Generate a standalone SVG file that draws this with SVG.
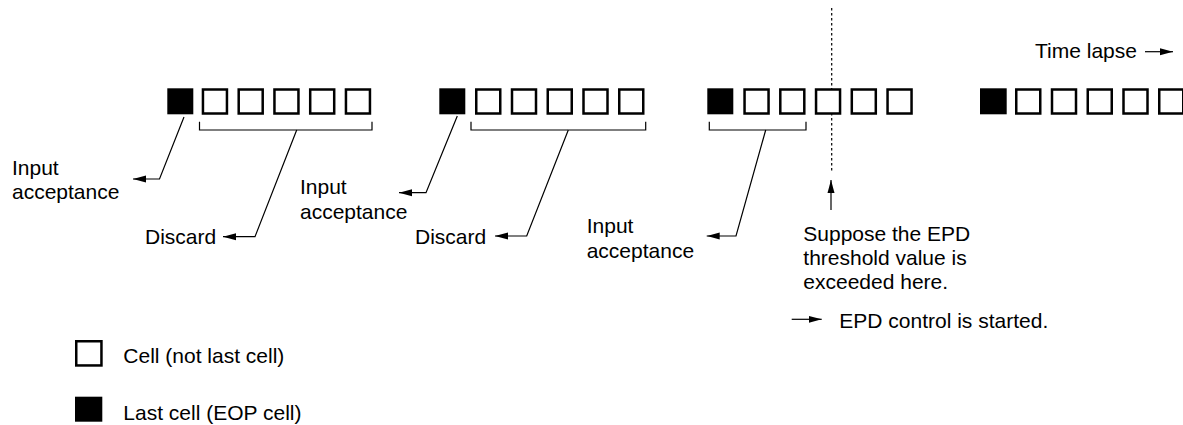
<svg xmlns="http://www.w3.org/2000/svg" width="1183" height="425" viewBox="0 0 1183 425">
  <defs>
    <style>
      text { font-family: "Liberation Sans", Arial, Helvetica, sans-serif; font-size: 21px; fill: #000; }
      .cell { fill: #fff; stroke: #000; stroke-width: 2.5; }
      .eop { fill: #000; stroke: none; }
      .bracket { fill: none; stroke: #000; stroke-width: 1.2; }
      .conn { fill: none; stroke: #000; stroke-width: 1.2; }
      .dotted { fill: none; stroke: #000; stroke-width: 1.2; stroke-dasharray: 2.5 2.5; }
    </style>
    <marker id="arrow" markerUnits="userSpaceOnUse" markerWidth="13" markerHeight="9" refX="13" refY="4.5" orient="auto">
      <path d="M0,1 L13,4.5 L0,8 z" fill="#000"/>
    </marker>
  </defs>

  <rect width="1183" height="425" fill="#fff"/>

  <!-- threshold dotted line (behind cells) -->
  <line id="threshold-line" class="dotted" x1="831.7" y1="8" x2="831.7" y2="172"/>

  <!-- cell train 1 -->
  <g id="train1">
    <rect class="eop" x="167.3" y="88.3" width="26" height="26"/>
    <rect class="cell" x="202.95" y="89.5" width="24" height="24"/>
    <rect class="cell" x="238.7" y="89.5" width="24" height="24"/>
    <rect class="cell" x="274.45" y="89.5" width="24" height="24"/>
    <rect class="cell" x="310.2" y="89.5" width="24" height="24"/>
    <rect class="cell" x="345.95" y="89.5" width="24" height="24"/>
    <path class="bracket" d="M199.5,121.7 V130 H372 V121.7"/>
  </g>

  <!-- cell train 2 -->
  <g id="train2">
    <rect class="eop" x="439.3" y="88.3" width="26" height="26"/>
    <rect class="cell" x="476.25" y="89.5" width="24" height="24"/>
    <rect class="cell" x="512" y="89.5" width="24" height="24"/>
    <rect class="cell" x="547.75" y="89.5" width="24" height="24"/>
    <rect class="cell" x="583.5" y="89.5" width="24" height="24"/>
    <rect class="cell" x="619.25" y="89.5" width="24" height="24"/>
    <path class="bracket" d="M471,121.7 V130 H645.7 V121.7"/>
  </g>

  <!-- cell train 3 -->
  <g id="train3">
    <rect class="eop" x="707.3" y="88.3" width="26" height="26"/>
    <rect class="cell" x="744.55" y="89.5" width="24" height="24"/>
    <rect class="cell" x="780.3" y="89.5" width="24" height="24"/>
    <rect class="cell" x="816.05" y="89.5" width="24" height="24"/>
    <rect class="cell" x="851.8" y="89.5" width="24" height="24"/>
    <rect class="cell" x="887.55" y="89.5" width="24" height="24"/>
    <path class="bracket" d="M709.3,121.7 V130 H806 V121.7"/>
  </g>

  <!-- cell train 4 -->
  <g id="train4">
    <rect class="eop" x="980" y="88.3" width="26.7" height="26"/>
    <rect class="cell" x="1016.25" y="89.5" width="24" height="24"/>
    <rect class="cell" x="1052" y="89.5" width="24" height="24"/>
    <rect class="cell" x="1087.75" y="89.5" width="24" height="24"/>
    <rect class="cell" x="1123.5" y="89.5" width="24" height="24"/>
    <rect class="cell" x="1159.25" y="89.5" width="24" height="24"/>
  </g>

  <!-- connectors -->
  <g id="connectors">
    <path class="conn" d="M184,117 L159.5,179 H133" marker-end="url(#arrow)"/>
    <path class="conn" d="M296.7,130 L255,236.7 H223" marker-end="url(#arrow)"/>
    <path class="conn" d="M457.3,116 L426,192.7 H399" marker-end="url(#arrow)"/>
    <path class="conn" d="M568.3,130 L526.7,236 H495" marker-end="url(#arrow)"/>
    <path class="conn" d="M765.7,130 L736,236 H706.7" marker-end="url(#arrow)"/>
    <path class="conn" d="M831,210 V180" marker-end="url(#arrow)"/>
    <path class="conn" d="M1145,51.7 H1173" marker-end="url(#arrow)"/>
    <path class="conn" d="M791.7,319.3 H821.7" marker-end="url(#arrow)"/>
  </g>

  <!-- labels -->
  <g id="label-accept1">
    <text x="12" y="175">Input</text>
    <text x="12" y="199">acceptance</text>
  </g>
  <g id="label-discard1">
    <text x="145" y="243.5">Discard</text>
  </g>
  <g id="label-accept2">
    <text x="300" y="194">Input</text>
    <text x="300" y="218.5">acceptance</text>
  </g>
  <g id="label-discard2">
    <text x="415" y="243.5">Discard</text>
  </g>
  <g id="label-accept3">
    <text x="586.7" y="233.3">Input</text>
    <text x="586.7" y="258">acceptance</text>
  </g>
  <g id="label-threshold">
    <text x="803.3" y="241">Suppose the EPD</text>
    <text x="803.3" y="265">threshold value is</text>
    <text x="803.3" y="289">exceeded here.</text>
  </g>
  <g id="label-epd">
    <text x="839.3" y="327.7">EPD control is started.</text>
  </g>
  <g id="label-time">
    <text x="1035" y="58">Time lapse</text>
  </g>

  <!-- legend -->
  <g id="legend-cell">
    <rect class="cell" x="76.25" y="341.25" width="25.2" height="24.2"/>
    <text x="123.3" y="363">Cell (not last cell)</text>
  </g>
  <g id="legend-eop">
    <rect class="eop" x="75" y="396.7" width="27.3" height="25"/>
    <text x="123.3" y="420">Last cell (EOP cell)</text>
  </g>
</svg>
